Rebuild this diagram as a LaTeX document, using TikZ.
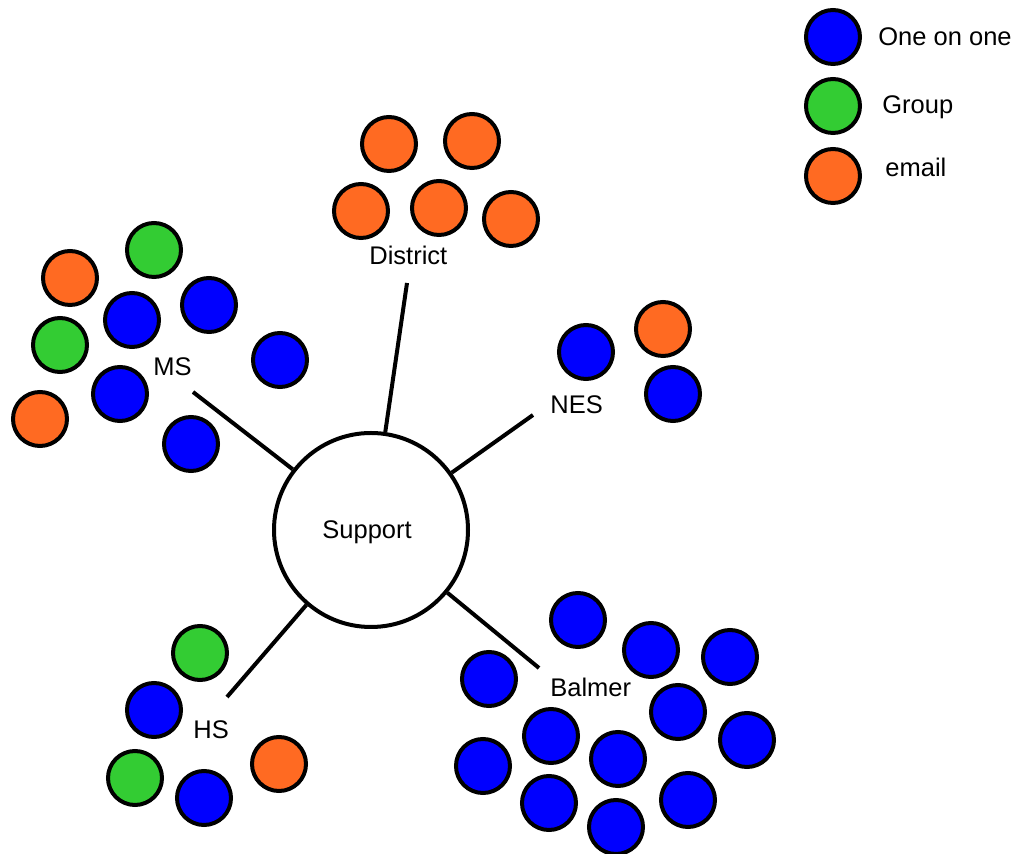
\documentclass[tikz,border=0pt]{standalone}
\usepackage{fontspec}
\setmainfont{Liberation Sans}
\definecolor{dotblue}{RGB}{0,0,255}
\definecolor{dotgreen}{RGB}{51,204,51}
\definecolor{dotorange}{RGB}{255,106,34}
\begin{document}
\begin{tikzpicture}[x=0.5pt,y=-0.5pt,
  dot/.style={circle,draw=black,line width=2pt,minimum size=27pt,inner sep=0pt},
  one/.style={dot,fill=dotblue},
  grp/.style={dot,fill=dotgreen},
  eml/.style={dot,fill=dotorange},
  lbl/.style={anchor=base west,inner sep=0pt,font=\fontsize{12.75}{15}\selectfont},
  conn/.style={line width=2pt}]
\useasboundingbox (0,0) rectangle (1019,854);
% legend
\node[one] (l1) at (833,37) {};
\node[grp] (l2) at (833,106) {};
\node[eml] (l3) at (833,176) {};
\node[lbl] (t1) at (878,46) {One on one};
\node[lbl] (t2) at (882,114) {Group};
\node[lbl] (t3) at (885,177) {email};
% support
\node[circle,draw=black,line width=2pt,minimum size=97pt,inner sep=0pt] (support) at (371,530) {};
\node[lbl] (tsup) at (322,539) {Support};
% District
\node[eml] (d1) at (389,144) {};
\node[eml] (d2) at (472,141) {};
\node[eml] (d3) at (361,211) {};
\node[eml] (d4) at (439,208) {};
\node[eml] (d5) at (511,219) {};
\node[lbl] (tdis) at (369,265) {District};
\coordinate (edis) at (407,283);
% MS
\node[grp] (m1) at (154,250) {};
\node[eml] (m2) at (70,278) {};
\node[one] (m3) at (132,320) {};
\node[one] (m4) at (209,305) {};
\node[grp] (m5) at (60,345) {};
\node[one] (m6) at (280,360) {};
\node[one] (m7) at (120,394) {};
\node[eml] (m8) at (40,419) {};
\node[one] (m9) at (191,444) {};
\node[lbl] (tms) at (153,376) {MS};
\coordinate (ems) at (193,392);
% NES
\node[one] (n1) at (586,352) {};
\node[eml] (n2) at (663,329) {};
\node[one] (n3) at (673,394) {};
\node[lbl] (tnes) at (550,414) {NES};
\coordinate (enes) at (533,415);
% HS
\node[grp] (h1) at (200,653) {};
\node[one] (h2) at (154,710) {};
\node[grp] (h3) at (135,778) {};
\node[one] (h4) at (204,798) {};
\node[eml] (h5) at (279,764) {};
\node[lbl] (ths) at (193,739) {HS};
\coordinate (ehs) at (227,697);
% Balmer
\node[one] (b1) at (578,620) {};
\node[one] (b2) at (651,650) {};
\node[one] (b3) at (730,657) {};
\node[one] (b4) at (489,679) {};
\node[one] (b5) at (678,712) {};
\node[one] (b6) at (747,740) {};
\node[one] (b7) at (551,736) {};
\node[one] (b8) at (618,759) {};
\node[one] (b9) at (483,766) {};
\node[one] (b10) at (549,803) {};
\node[one] (b11) at (688,800) {};
\node[one] (b12) at (616,827) {};
\node[lbl] (tbal) at (550,697) {Balmer};
\coordinate (ebal) at (539,668);
% connectors
\draw[conn] (edis) -- (support);
\draw[conn] (ems) -- (support);
\draw[conn] (enes) -- (support);
\draw[conn] (ehs) -- (support);
\draw[conn] (ebal) -- (support);
\end{tikzpicture}
\end{document}
